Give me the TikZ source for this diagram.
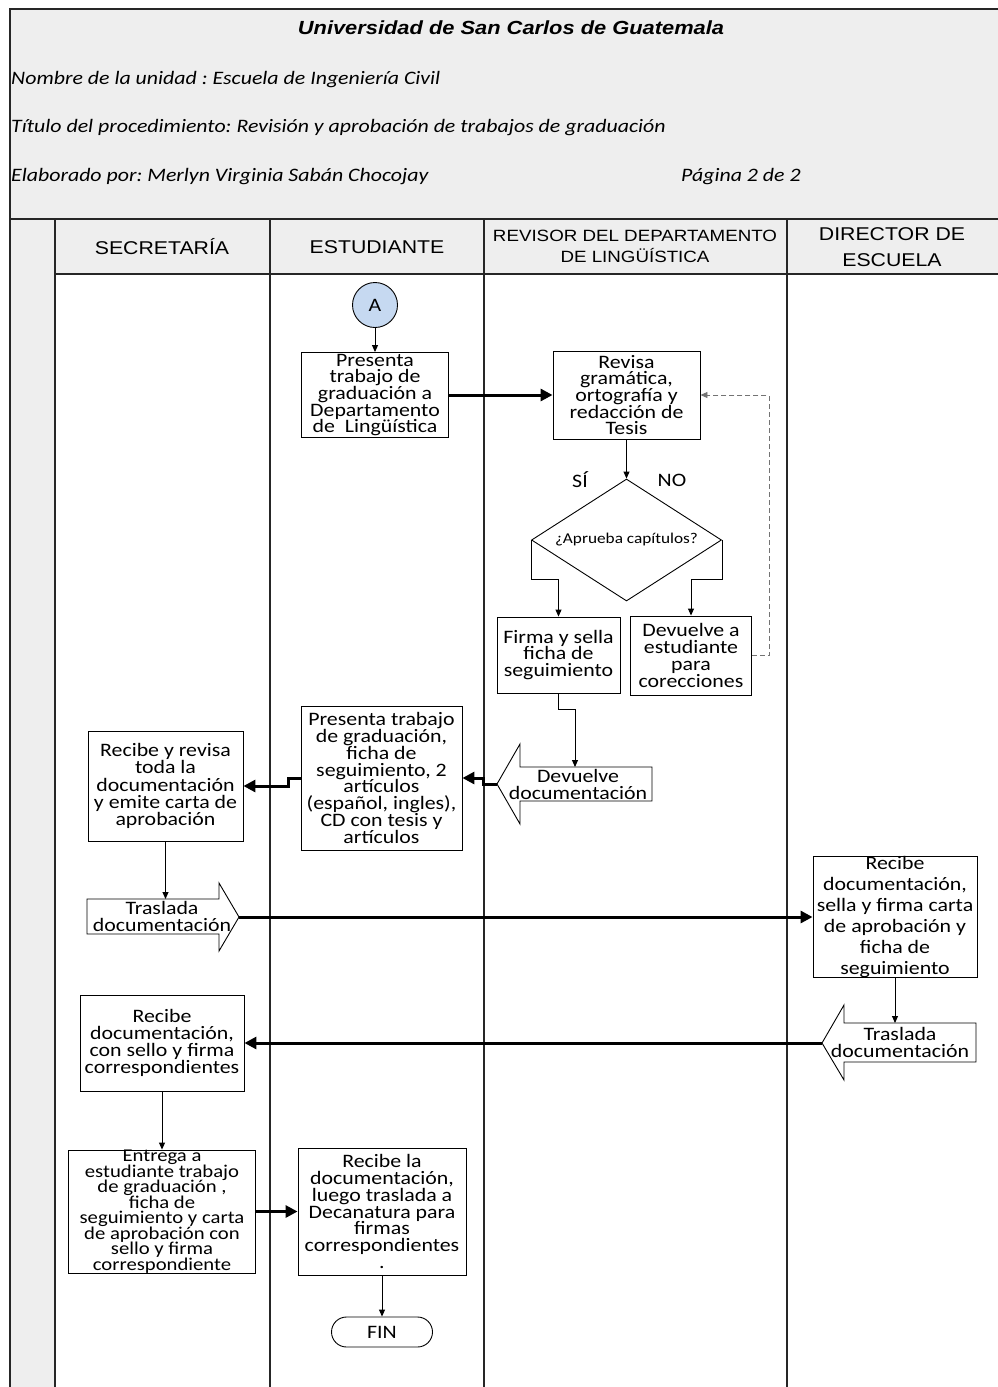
\documentclass[tikz,border=0pt]{standalone}
\usepackage{fontspec}
\setmainfont{Carlito}[FakeStretch=1.15]
\newfontfamily\arialf{Liberation Sans}[FakeStretch=1.15]
\usetikzlibrary{arrows.meta,shapes.geometric,calc}
\newcommand{\fsz}[2]{\fontsize{#1}{#2}\selectfont\lineskiplimit=-60pt\relax}
\definecolor{hdr}{HTML}{EEEEEE}
\definecolor{circ}{HTML}{C6D9F1}
\frenchspacing
\begin{document}
\begin{tikzpicture}[x=1pt,y=-1pt,
  box/.style={draw, line width=0.9pt, fill=white, align=center, inner sep=0pt, font=\fsz{19}{16.7}},
  blk/.style={draw, line width=0.9pt, fill=white},
  blktext/.style={align=center, inner sep=0pt, font=\fsz{19}{17}},
  thinarrow/.style={draw, line width=0.9pt, -{Triangle[length=7pt,width=6pt]}},
  boldarrow/.style={draw, line width=3pt, -{Triangle[length=12pt,width=12pt]}},
  dasharrow/.style={draw=black!55, line width=0.9pt, dash pattern=on 5pt off 3pt, -{Triangle[length=7pt,width=6pt]}},
  frameline/.style={line width=1.3pt, draw=black!85},
  hdrtext/.style={anchor=west, inner sep=0pt, font=\itshape\fsz{19}{22}},
  lanetext/.style={align=center, inner sep=0pt, font=\arialf\fsz{18.5}{26}},
  lbl/.style={inner sep=0pt, font=\fsz{19}{22}},
]
\useasboundingbox (0,0) rectangle (998,1387);
% background
\fill[hdr] (10,9) rectangle (998,1387);
\fill[white] (55,274) rectangle (998,1387);
\draw[frameline] (998,9) -- (10,9) -- (10,1387);
\draw[frameline] (10,219) -- (998,219);
\draw[frameline] (55,219) -- (55,1387);
\draw[frameline] (55,274) -- (998,274);
\foreach \x in {270,484,787} \draw[frameline] (\x,219) -- (\x,1387);

% header
\node[inner sep=0pt, font=\arialf\bfseries\itshape\fsz{19}{22}] (title) at (511,28) {Universidad de San Carlos de Guatemala};
\node[hdrtext] (unidad) at (11,80) {Nombre de la unidad : Escuela de Ingeniería Civil};
\node[hdrtext] (titulo) at (11,128) {Título del procedimiento: Revisión y aprobación de trabajos de graduación};
\node[hdrtext] (elab) at (11,177) {Elaborado por: Merlyn Virginia Sabán Chocojay};
\node[hdrtext] (pag) at (681,177) {Página 2 de 2};

% lane headers
\node[lanetext] (h1) at (162,247) {SECRETARÍA};
\node[lanetext] (h2) at (377,247) {ESTUDIANTE};
\node[lanetext, font=\arialf\fsz{16.3}{21}] (h3) at (635,246) {REVISOR DEL DEPARTAMENTO\\DE LINGÜÍSTICA};
\node[lanetext] (h4) at (892,247) {DIRECTOR DE\\ESCUELA};

% nodes
\node[circle, draw, line width=0.9pt, fill=circ, minimum size=45pt, inner sep=0pt, font=\fsz{19}{22}] (A) at (375,305) {A};
\node[box, minimum width=147pt, minimum height=85pt] (P1) at (375,395) {Presenta\\trabajo de\\graduación a\\Departamento\\de~~Lingüística};
\node[box, minimum width=147pt, minimum height=88pt] (R1) at (626.5,395) {Revisa\\gramática,\\ortografía y\\redacción de\\Tesis};
\node[diamond, aspect=1.56, draw, line width=0.9pt, fill=white, minimum width=190pt, minimum height=122pt, inner sep=0pt, font=\fsz{15}{18}] (D) at (626.5,540) {¿Aprueba capítulos?};
\node[lbl] (si) at (580,480) {SÍ};
\node[lbl] (no) at (672,480) {NO};
\node[box, minimum width=123pt, minimum height=76pt] (F1) at (558.5,655) {Firma y sella\\ficha de\\seguimiento};
\node[box, minimum width=121pt, minimum height=79pt] (DV) at (691,655.5) {Devuelve a\\estudiante\\para\\corecciones};

% Devuelve documentacion (left block arrow)
\draw[blk] (497,784) -- (520,744) -- (520,767) -- (652,767) -- (652,801) -- (520,801) -- (520,824) -- cycle;
\coordinate (ddtip) at (497,784);
\coordinate (ddtop) at (575,767);
\node[blktext] (dd) at (578,784) {Devuelve\\documentación};

\node[box, minimum width=161pt, minimum height=144pt, font=\fsz{19}{16.9}] (P2) at (381.5,778) {Presenta trabajo\\de graduación,\\ficha de\\seguimiento, 2\\artículos\\(español, ingles),\\CD con tesis y\\artículos};
\node[box, minimum width=155pt, minimum height=110pt, font=\fsz{19}{17.3}] (RR) at (165.5,786) {Recibe y revisa\\toda la\\documentación\\y emite carta de\\aprobación};

% Traslada (right block arrow)
\draw[blk] (87,899) -- (219,899) -- (219,883) -- (239,917) -- (219,951) -- (219,934) -- (87,934) -- cycle;
\coordinate (trtip) at (239,917);
\coordinate (trtop) at (163,899);
\node[blktext] (tr) at (162,916) {Traslada\\documentación};

\node[box, minimum width=164pt, minimum height=118pt, font=\fsz{19}{21}] (DB) at (895,917) {Recibe\\documentación,\\sella y firma carta\\de aprobación y\\ficha de\\seguimiento};

% Traslada (left block arrow)
\draw[blk] (822,1043) -- (844,1005) -- (844,1023) -- (976,1023) -- (976,1062) -- (844,1062) -- (844,1080) -- cycle;
\coordinate (tltip) at (822,1043);
\coordinate (tltop) at (895,1023);
\node[blktext] (tl) at (900,1042) {Traslada\\documentación};

\node[box, minimum width=164pt, minimum height=96pt, font=\fsz{19}{17}] (RD) at (162,1043) {Recibe\\documentación,\\con sello y firma\\correspondientes};
\node[box, minimum width=187pt, minimum height=121pt, font=\fsz{18}{15.5}] (EN) at (162,1211.5) {Entrega a\\estudiante trabajo\\de graduación ,\\ficha de\\seguimiento y carta\\de aprobación con\\sello y firma\\correspondiente};
\node[box, minimum width=168pt, minimum height=127pt] (RL) at (382,1211.5) {Recibe la\\documentación,\\luego traslada a\\Decanatura para\\firmas\\correspondientes\\.};
\node[draw, line width=0.9pt, fill=white, rounded corners=15pt, minimum width=101pt, minimum height=30pt, inner sep=0pt, font=\fsz{19}{22}] (FIN) at (382,1332) {FIN};

% connectors
\draw[thinarrow] (A) -- (P1);
\draw[boldarrow] (P1) -- (R1);
\draw[thinarrow] (R1.south) -- (R1.south |- D.north);
\draw[thinarrow] (D.west) |- ([yshift=37pt]F1.north) -- (F1.north);
\draw[thinarrow] (D.east) |- ([yshift=36pt]DV.north) -- (DV.north);
\draw[dasharrow] (DV.east) -- ++(17,0) |- (R1.east);
\draw[thinarrow] (F1.south) -- ++(0,16) -| (ddtop);
\draw[boldarrow] (ddtip) -- ++(-14,0) |- (P2.east);
\draw[boldarrow] (P2.west) -- ++(-12,0) |- (RR.east);
\draw[thinarrow] (RR.south) -- (RR.south |- trtop);
\draw[boldarrow] (trtip) -- (trtip -| DB.west);
\draw[thinarrow] (DB.south) -- (DB.south |- tltop);
\draw[boldarrow] (tltip) -- (tltip -| RD.east);
\draw[thinarrow] (RD.south) -- (RD.south |- EN.north);
\draw[boldarrow] (EN.east) -- (RL.west);
\draw[thinarrow] (RL.south) -- (FIN.north);
\end{tikzpicture}
\end{document}
